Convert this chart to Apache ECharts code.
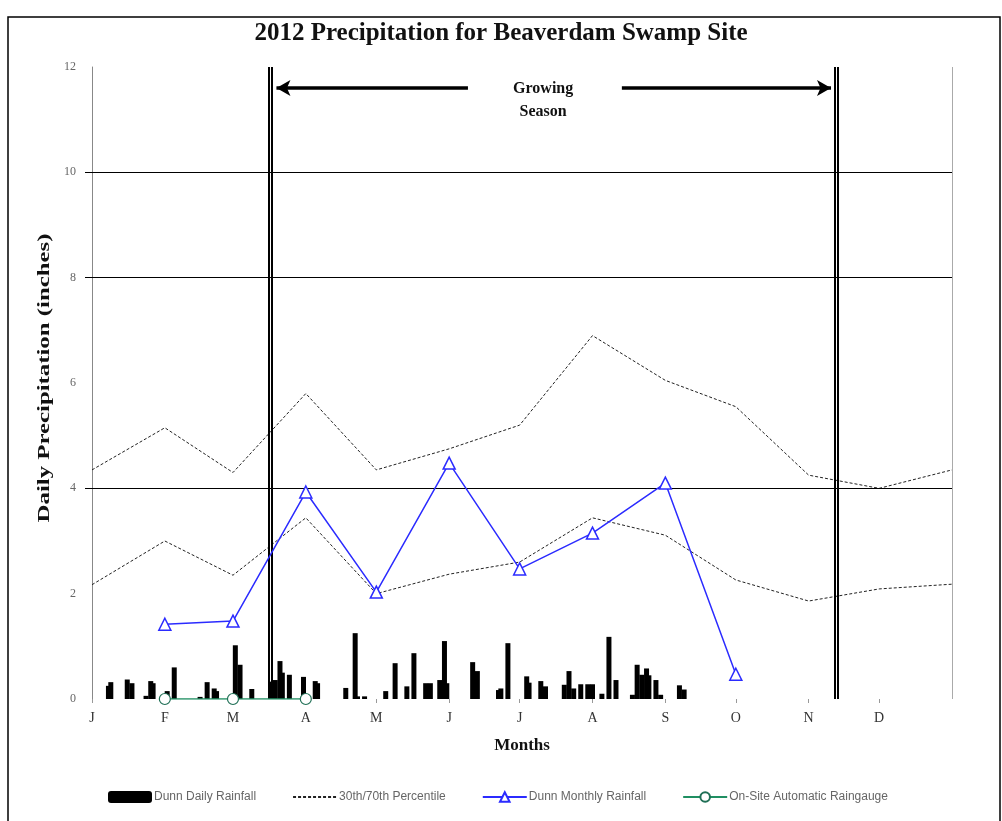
<!DOCTYPE html>
<html>
<head>
<meta charset="utf-8">
<script src="https://cdn.jsdelivr.net/npm/echarts@6/dist/echarts.min.js"></script>
<style>html,body{margin:0;padding:0;background:#fff;}#c{width:1002px;height:821px;}</style>
</head>
<body>
<div id="c"></div>
<script>
// ---- data ----
const monthLabels = ['J','F','M','A','M','J','J','A','S','O','N','D'];
const monthStartDays = [0,31,60,91,121,152,182,213,244,274,305,335];
const pctDays = [0,31,60,91,121,152,182,213,244,274,305,335,366];
const pct70 = [4.35,5.15,4.3,5.8,4.35,4.75,5.2,6.9,6.05,5.55,4.25,4.0,4.35];
const pct30 = [2.17,3.0,2.35,3.44,2.0,2.37,2.6,3.44,3.11,2.26,1.86,2.09,2.18];
const monthlyDays = [31,60,91,121,152,182,213,244,274];
const monthlyRain = [1.42,1.48,3.93,2.03,4.48,2.47,3.15,4.1,0.47];
const gaugeDays = [31,60,91];
const gaugeVals = [0,0,0];
const dailyDays = [7,8,15,17,23,25,26,32,35,46,49,52,53,61,63,68,76,78,80,81,84,90,95,96,108,112,113,116,125,129,134,137,142,144,148,150,151,162,164,173,174,177,185,186,191,193,201,203,205,208,211,213,217,220,223,230,232,234,236,237,240,242,250,252];
const dailyVals = [0.25,0.32,0.37,0.3,0.06,0.34,0.3,0.15,0.6,0.04,0.32,0.2,0.15,1.02,0.65,0.19,0.33,0.36,0.72,0.5,0.46,0.42,0.34,0.3,0.21,1.25,0.05,0.05,0.15,0.68,0.24,0.87,0.3,0.3,0.36,1.1,0.3,0.7,0.53,0.17,0.2,1.06,0.43,0.31,0.34,0.24,0.27,0.53,0.2,0.28,0.28,0.28,0.1,1.18,0.36,0.08,0.65,0.46,0.58,0.45,0.36,0.08,0.26,0.18];
const seasonStart = [75.1,76.5];
const seasonEnd = [316.0,317.4];
const gridLevels = [4,8,10];

const pair = (xs, ys) => xs.map((x,i)=>[x, ys[i]]);
const labelMap = {};
monthStartDays.forEach((d,i)=>labelMap[d]=monthLabels[i]);

const serif = '"Liberation Serif","DejaVu Serif",serif';
const chart = echarts.init(document.getElementById('c'));
chart.setOption({
  animation:false,
  backgroundColor:'#fff',
  title:{text:'2012 Precipitation for Beaverdam Swamp Site',left:'center',top:16,
    textStyle:{fontFamily:serif,fontWeight:'bold',fontSize:25,color:'#111'}},
  grid:{left:92,right:50,top:67,bottom:122,containLabel:false},
  xAxis:{type:'value',min:0,max:366,
    name:'Months',nameLocation:'middle',nameGap:38,
    nameTextStyle:{fontFamily:serif,fontWeight:'bold',fontSize:17,color:'#111'},
    axisLine:{show:false},
    axisTick:{show:true,customValues:monthStartDays,length:4,lineStyle:{color:'#999'}},
    axisLabel:{customValues:monthStartDays,formatter:v=>labelMap[v]||'',fontFamily:serif,fontSize:14,color:'#333',margin:12},
    splitLine:{show:false}},
  yAxis:{type:'value',min:0,max:12,interval:2,
    axisLine:{show:true,lineStyle:{color:'#888'}},
    axisTick:{show:true,customValues:gridLevels,length:7,lineStyle:{color:'#000'}},
    axisLabel:{fontFamily:serif,fontSize:12,color:'#666',margin:16},
    splitLine:{show:false}},
  legend:{bottom:13,left:103,itemGap:36,itemWidth:44,itemHeight:12,
    textStyle:{fontFamily:'"Liberation Sans Narrow","Liberation Sans",sans-serif',fontSize:12,color:'#666',padding:[0,0,0,-3]},
    data:['Dunn Daily Rainfall',{name:'30th/70th Percentile',itemStyle:{opacity:0}},'Dunn Monthly Rainfall','On-Site Automatic Raingauge']},
  series:[
    {name:'Dunn Daily Rainfall',type:'bar',barWidth:5,barGap:'-100%',itemStyle:{color:'#000'},
      data:pair(dailyDays,dailyVals),z:3,
      markLine:{silent:true,symbol:'none',label:{show:false},
        lineStyle:{color:'#000',width:1,type:'solid'},
        data:gridLevels.map(v=>({yAxis:v}))}},
    {name:'30th/70th Percentile',type:'line',data:pair(pctDays,pct70),symbol:'none',
      lineStyle:{color:'#222',width:1,type:[3,2]},itemStyle:{color:'#222'},z:2},
    {name:'30th/70th Percentile',type:'line',data:pair(pctDays,pct30),symbol:'none',
      lineStyle:{color:'#222',width:1,type:[3,2]},itemStyle:{color:'#222'},z:2,
      markLine:{silent:true,symbol:'none',label:{show:false},
        lineStyle:{color:'#000',width:2,type:'solid'},
        data:[...seasonStart,...seasonEnd].map(d=>({xAxis:d}))}},
    {name:'Dunn Monthly Rainfall',type:'line',data:pair(monthlyDays,monthlyRain),
      symbol:'triangle',symbolSize:12,showAllSymbol:true,
      lineStyle:{color:'#2b2bff',width:1.5},itemStyle:{color:'#fff',borderColor:'#2b2bff',borderWidth:1.5},z:5},
    {name:'On-Site Automatic Raingauge',type:'line',data:pair(gaugeDays,gaugeVals),
      symbol:'circle',symbolSize:11,
      lineStyle:{color:'#1f8f62',width:1.5},itemStyle:{color:'#fff',borderColor:'#1f6f55',borderWidth:1.2},z:6,
      markLine:{silent:true,label:{show:false},
        lineStyle:{color:'#000',width:3.5,type:'solid'},symbolSize:[12,14],
        data:[
          [{coord:[160,11.6],symbol:'none'},{coord:[78.5,11.6],symbol:'arrow'}],
          [{coord:[225.5,11.6],symbol:'none'},{coord:[314.5,11.6],symbol:'arrow'}],
          [{coord:[366,0],symbol:'none',lineStyle:{color:'#aaa',width:1}},{coord:[366,12],symbol:'none'}]
        ]},
      markPoint:{silent:true,symbol:'rect',symbolSize:1,itemStyle:{color:'rgba(0,0,0,0)'},
        label:{show:true,formatter:'Growing\nSeason',fontFamily:serif,fontWeight:'bold',fontSize:16,color:'#111',lineHeight:23},
        data:[{coord:[192,11.37]}]}}
  ],
  graphic:[
    {type:'rect',shape:{x:8,y:17,width:992,height:810},style:{fill:'none',stroke:'#000',lineWidth:1.5},silent:true},
    {type:'text',x:45,y:378,rotation:Math.PI/2,scaleX:1.55,silent:true,
      style:{text:'Daily Precipitation (inches)',fontFamily:serif,fontWeight:'bold',fontSize:16,fill:'#111',
        align:'center',verticalAlign:'middle'}}
  ]
});
</script>
</body>
</html>
